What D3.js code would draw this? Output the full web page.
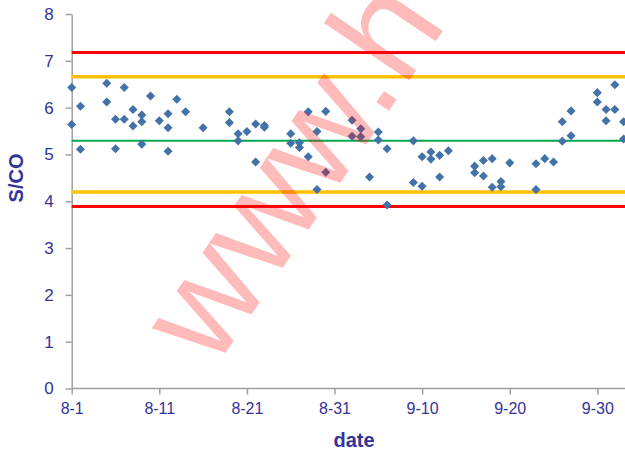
<!DOCTYPE html>
<html>
<head>
<meta charset="utf-8">
<script src="https://cdn.jsdelivr.net/npm/d3@7"></script>
<style>
  html, body { margin: 0; padding: 0; background: #fff; }
  svg { display: block; font-family: "Liberation Sans", Arial, sans-serif; }
  .axis text { fill: #333399; font-size: 16px; }
  .axis line, .axis path { stroke: #a0a0a0; stroke-width: 1.5; }
  .axis-title { fill: #333399; font-size: 20px; font-weight: bold; }
</style>
</head>
<body>
<div id="chart"></div>
<script>
// dati
const dates = [
  "8-1", "8-1", "8-2", "8-2", "8-5", "8-5", "8-6", "8-6", "8-7", "8-7",
  "8-8", "8-8", "8-9", "8-9", "8-9", "8-10", "8-11", "8-12", "8-12", "8-12",
  "8-13", "8-14", "8-16", "8-19", "8-19", "8-20", "8-20", "8-21", "8-22", "8-22",
  "8-23", "8-23", "8-26", "8-26", "8-27", "8-27", "8-28", "8-28", "8-29", "8-29",
  "8-30", "8-30", "9-2", "9-2", "9-3", "9-3", "9-4", "9-5", "9-5", "9-6",
  "9-6", "9-9", "9-9", "9-10", "9-10", "9-11", "9-11", "9-12", "9-12", "9-13",
  "9-16", "9-16", "9-17", "9-17", "9-18", "9-18", "9-19", "9-19", "9-20", "9-23",
  "9-23", "9-24", "9-25", "9-26", "9-26", "9-27", "9-27", "9-30", "9-30", "10-1",
  "10-1", "10-2", "10-2", "10-3", "10-3"
];
const values = [
  6.43, 5.64, 6.03, 5.11, 6.52, 6.12, 5.75, 5.12, 6.43, 5.75,
  5.96, 5.61, 5.84, 5.70, 5.22, 6.25, 5.72, 5.87, 5.57, 5.07,
  6.18, 5.91, 5.57, 5.91, 5.68, 5.44, 5.29, 5.49, 5.65, 4.84,
  5.62, 5.58, 5.44, 5.24, 5.25, 5.15, 5.91, 4.95, 5.49, 4.25,
  5.92, 4.62, 5.73, 5.39, 5.55, 5.38, 4.52, 5.48, 5.31, 5.12,
  3.92, 5.29, 4.40, 4.95, 4.32, 5.05, 4.90, 4.98, 4.52, 5.08,
  4.75, 4.61, 4.87, 4.54, 4.91, 4.30, 4.42, 4.31, 4.82, 4.80,
  4.25, 4.91, 4.84, 5.70, 5.28, 5.93, 5.40, 6.32, 6.12, 5.96,
  5.72, 6.49, 5.96, 5.70, 5.33
];

// linee di controllo
const limitValues = [7.18, 6.66, 5.29, 4.20, 3.89];
const limitColors = ["#ff0000", "#ffc000", "#00a850", "#ffc000", "#ff0000"];
const limitWidths = [3, 3.5, 2, 3.5, 3];

const xTickLabels = ["8-1", "8-11", "8-21", "8-31", "9-10", "9-20", "9-30"];
const yTicks = [0, 1, 2, 3, 4, 5, 6, 7, 8];
const xDomain = ["8-1", "10-3"];

const width = 625, height = 452;
const margin = { top: 14, right: 1.4, bottom: 63.5, left: 71.7 };

const parse = d3.timeParse("%m-%d");
const fmt = d3.timeFormat("%-m-%-d");

const svg = d3.select("#chart").append("svg")
    .attr("width", width)
    .attr("height", height);

const x = d3.scaleTime()
    .domain(xDomain.map(parse))
    .range([margin.left, width - margin.right]);
const y = d3.scaleLinear()
    .domain([0, 8])
    .range([height - margin.bottom, margin.top]);

// assi
const xAxisG = svg.append("g").attr("class", "axis")
    .attr("transform", `translate(0, ${y(0)})`)
    .call(d3.axisBottom(x).tickValues(xTickLabels.map(parse)).tickFormat(fmt)
        .tickSize(6).tickSizeOuter(0).tickPadding(8));
xAxisG.select(".domain").attr("d", `M${margin.left},0H${width}`);

svg.append("g").attr("class", "axis")
    .attr("transform", `translate(${margin.left}, 0)`)
    .call(d3.axisLeft(y).tickValues(yTicks).tickSize(6).tickSizeOuter(0).tickPadding(12))
    .selectAll("text").style("font-size", "17px");

// linee orizzontali
svg.append("g").selectAll("line")
    .data(limitValues)
    .join("line")
    .attr("x1", margin.left)
    .attr("x2", width)
    .attr("y1", d => y(d))
    .attr("y2", d => y(d))
    .attr("stroke", (d, i) => limitColors[i])
    .attr("stroke-width", (d, i) => limitWidths[i]);

// punti a rombo
const diamond = d3.symbol().type(d3.symbolSquare).size(41);
svg.append("g").selectAll("path")
    .data(values.map((v, i) => ({ date: parse(dates[i]), value: v })))
    .join("path")
    .attr("d", diamond)
    .attr("transform", d => `translate(${x(d.date)}, ${y(d.value)}) rotate(45)`)
    .attr("fill", "#4272a8");

// titoli
svg.append("text").attr("class", "axis-title")
    .attr("text-anchor", "middle")
    .attr("transform", "translate(23, 178) rotate(-90)")
    .text("S/CO");
svg.append("text").attr("class", "axis-title")
    .attr("text-anchor", "middle")
    .attr("x", 354).attr("y", 447)
    .text("date");

// filigrana
svg.append("text")
    .attr("transform", "translate(214, 370) rotate(-56)")
    .attr("fill", "#ff0000")
    .attr("fill-opacity", 0.27)
    .style("font-size", "142px")
    .style("font-family", "'Liberation Sans', Arial, sans-serif")
    .text("www.h");
</script>
</body>
</html>
